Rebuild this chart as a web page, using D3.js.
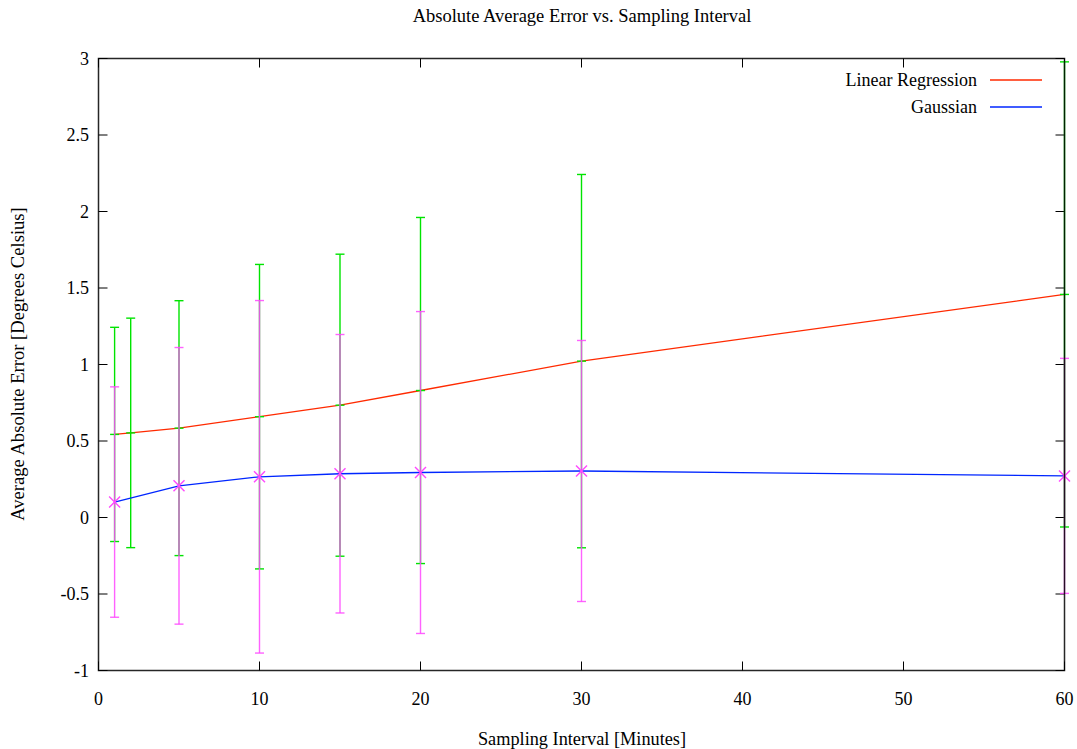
<!DOCTYPE html>
<html>
<head>
<meta charset="utf-8">
<script src="https://cdn.jsdelivr.net/npm/d3@7"></script>
<style>
  body { margin: 0; background: #fff; }
  text { font-family: "Liberation Serif", "Times New Roman", serif; fill: #000; }
</style>
</head>
<body>
<svg id="chart" width="1077" height="749"></svg>
<script>
// ---- Data ----
const title = "Absolute Average Error vs. Sampling Interval";
const xLabel = "Sampling Interval [Minutes]";
const yLabel = "Average Absolute Error [Degrees Celsius]";
const seriesNames = ["Linear Regression", "Gaussian"];

const linX    = [1, 2, 5, 10, 15, 20, 30, 60];
const linMean = [0.543, 0.553, 0.584, 0.659, 0.734, 0.830, 1.022, 1.458];
const linSd   = [0.700, 0.750, 0.833, 0.995, 0.987, 1.131, 1.220, 1.520];

const gauX    = [1, 5, 10, 15, 20, 30, 60];
const gauMean = [0.101, 0.207, 0.266, 0.286, 0.294, 0.304, 0.272];
const gauSd   = [0.753, 0.904, 1.152, 0.910, 1.052, 0.853, 0.768];

const xTicks = [0, 10, 20, 30, 40, 50, 60];
const yTicks = [-1, -0.5, 0, 0.5, 1, 1.5, 2, 2.5, 3];

// ---- Layout ----
const svg = d3.select("#chart");
const L = 98.5, R = 1064.5, T = 58.5, B = 670.5;
const x = d3.scaleLinear().domain([0, 60]).range([L, R]);
const y = d3.scaleLinear().domain([-1, 3]).range([B, T]);

const cRed = "#ff2a00", cGreen = "#00e400", cBlue = "#0026ff", cPink = "#ff48ff";
const tickLen = 9, capW = 4.5;

// Ticks (all four sides, inward)
const gTicks = svg.append("g").attr("stroke", "#000").attr("stroke-width", 1);
xTicks.forEach(t => {
  gTicks.append("line").attr("x1", x(t)).attr("x2", x(t)).attr("y1", B).attr("y2", B - tickLen);
  gTicks.append("line").attr("x1", x(t)).attr("x2", x(t)).attr("y1", T).attr("y2", T + tickLen);
});
yTicks.forEach(t => {
  gTicks.append("line").attr("x1", L).attr("x2", L + tickLen).attr("y1", y(t)).attr("y2", y(t));
  gTicks.append("line").attr("x1", R).attr("x2", R - tickLen).attr("y1", y(t)).attr("y2", y(t));
});

// Tick labels
svg.append("g").selectAll("text").data(xTicks).join("text")
  .attr("x", d => x(d)).attr("y", 705)
  .attr("text-anchor", "middle").attr("font-size", 18).text(d => d);
svg.append("g").selectAll("text").data(yTicks).join("text")
  .attr("x", 89).attr("y", d => y(d) + 6)
  .attr("text-anchor", "end").attr("font-size", 18).text(d => d);

// Title and axis labels
svg.append("text").attr("x", 582).attr("y", 22).attr("text-anchor", "middle")
  .attr("font-size", 18.5).text(title);
svg.append("text").attr("x", 582).attr("y", 745).attr("text-anchor", "middle")
  .attr("font-size", 18.3).text(xLabel);
svg.append("text").attr("transform", "translate(24,364) rotate(-90)")
  .attr("text-anchor", "middle").attr("font-size", 18.6).text(yLabel);

// Linear regression line
const line = d3.line().x(d => x(d[0])).y(d => y(d[1]));
const linPts = linX.map((v, i) => [v, linMean[i]]);
const gauPts = gauX.map((v, i) => [v, gauMean[i]]);

svg.append("path").datum(linPts).attr("d", line)
  .attr("fill", "none").attr("stroke", cRed).attr("stroke-width", 1.3);

// Linear regression error bars (green)
const gG = svg.append("g").attr("stroke", cGreen).attr("stroke-width", 1.4);
linX.forEach((v, i) => {
  const cx = x(v), lo = y(linMean[i] - linSd[i]), hi = y(linMean[i] + linSd[i]), m = y(linMean[i]);
  gG.append("line").attr("x1", cx).attr("x2", cx).attr("y1", lo).attr("y2", hi);
  gG.append("line").attr("x1", cx - capW).attr("x2", cx + capW).attr("y1", lo).attr("y2", lo);
  gG.append("line").attr("x1", cx - capW).attr("x2", cx + capW).attr("y1", hi).attr("y2", hi);
  gG.append("line").attr("x1", cx - capW).attr("x2", cx + capW).attr("y1", m).attr("y2", m);
});

// Gaussian line
svg.append("path").datum(gauPts).attr("d", line)
  .attr("fill", "none").attr("stroke", cBlue).attr("stroke-width", 1.3);

// Gaussian error bars (pink) + markers
const gP = svg.append("g").attr("stroke", cPink).attr("stroke-width", 1.4).attr("stroke-opacity", 0.86);
gauX.forEach((v, i) => {
  const cx = x(v), lo = y(gauMean[i] - gauSd[i]), hi = y(gauMean[i] + gauSd[i]);
  gP.append("line").attr("x1", cx).attr("x2", cx).attr("y1", lo).attr("y2", hi);
  gP.append("line").attr("x1", cx - capW).attr("x2", cx + capW).attr("y1", lo).attr("y2", lo);
  gP.append("line").attr("x1", cx - capW).attr("x2", cx + capW).attr("y1", hi).attr("y2", hi);
});
const gM = svg.append("g").attr("stroke", cPink).attr("stroke-width", 1.4);
gauPts.forEach(p => {
  const cx = x(p[0]), cy = y(p[1]), s = 5.5;
  gM.append("line").attr("x1", cx - s).attr("x2", cx + s).attr("y1", cy - s).attr("y2", cy + s);
  gM.append("line").attr("x1", cx - s).attr("x2", cx + s).attr("y1", cy + s).attr("y2", cy - s);
});

// Frame
svg.append("rect").attr("x", L).attr("y", T).attr("width", R - L).attr("height", B - T)
  .attr("fill", "none").attr("stroke", "#000").attr("stroke-width", 1.5).attr("stroke-opacity", 0.85);

// Legend
const leg = [[seriesNames[0], cRed, 80], [seriesNames[1], cBlue, 107]];
leg.forEach(([name, col, ly]) => {
  svg.append("text").attr("x", 977).attr("y", ly + 6).attr("text-anchor", "end")
    .attr("font-size", 18).text(name);
  svg.append("line").attr("x1", 990).attr("x2", 1042).attr("y1", ly).attr("y2", ly)
    .attr("stroke", col).attr("stroke-width", 1.3);
});
</script>
</body>
</html>
